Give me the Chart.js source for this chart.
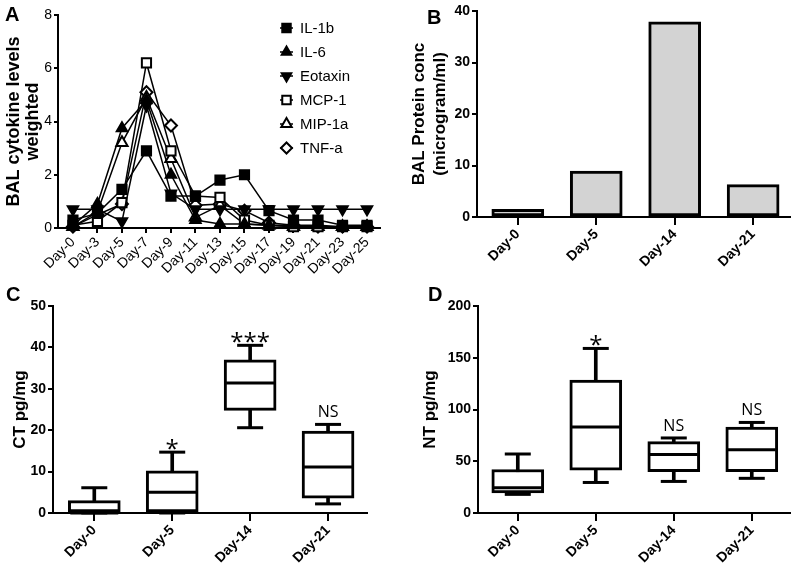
<!DOCTYPE html>
<html><head><meta charset="utf-8">
<script src="https://cdn.jsdelivr.net/npm/chart.js@4.4.0/dist/chart.umd.min.js"></script>
<style>
html,body{margin:0;padding:0;background:#fff;}
#wrap{position:relative;width:796px;height:575px;overflow:hidden;background:#fff;}
canvas{position:absolute;}
.lbl{position:absolute;font:bold 20px 'Liberation Sans',Arial,sans-serif;line-height:20px;color:#000;}
</style></head><body>
<div id="wrap">
<canvas id="cA" width="400" height="290" style="left:0;top:0"></canvas>
<canvas id="cB" width="396" height="290" style="left:400px;top:0"></canvas>
<canvas id="cC" width="400" height="285" style="left:0;top:290px"></canvas>
<canvas id="cD" width="396" height="285" style="left:400px;top:290px"></canvas>
<div class="lbl" style="left:5px;top:4px">A</div>
<div class="lbl" style="left:427px;top:7px">B</div>
<div class="lbl" style="left:6px;top:284px">C</div>
<div class="lbl" style="left:428px;top:284px">D</div>
</div>
<script>
// ---------- Panel A data ----------
const cytokineDays = ['Day-0','Day-3','Day-5','Day-7','Day-9','Day-11','Day-13','Day-15','Day-17','Day-19','Day-21','Day-23','Day-25'];
const il1b    = [0.3, 0.55, 1.45, 2.9, 1.2, 1.2, 1.8, 2.0, 0.65, 0.3, 0.3, 0.1, 0.1];
const il6     = [0.1, 0.9, 3.75, 4.8, 2.0, 0.3, 0.15, 0.15, 0.1, 0.1, 0.1, 0.05, 0.05];
const eotaxin = [0.7, 0.7, 0.25, 4.6, 1.3, 0.7, 0.7, 0.7, 0.7, 0.7, 0.7, 0.7, 0.7];
const mcp1    = [0.1, 0.25, 0.95, 6.2, 2.9, 1.2, 1.15, 0.3, 0.1, 0.05, 0.05, 0.05, 0.05];
const mip1a   = [0.05, 0.6, 3.2, 4.9, 2.6, 0.4, 0.85, 0.15, 0.1, 0.05, 0.05, 0.05, 0.05];
const tnfa    = [0.05, 0.5, 0.9, 5.1, 3.85, 0.85, 0.9, 0.65, 0.2, 0.1, 0.05, 0.05, 0.05];
const cytokineNames = ['IL-1b','IL-6','Eotaxin','MCP-1','MIP-1a','TNF-a'];

// ---------- Panel B data ----------
const proteinDays = ['Day-0','Day-5','Day-14','Day-21'];
const proteinConc = [1.5, 8.9, 37.9, 6.3];

// ---------- Panel C data (CT pg/mg) ----------
const ctDays = ['Day-0','Day-5','Day-14','Day-21'];
const ctMin = [0, 0, 20.6, 2.2];
const ctQ1  = [0, 0, 24.8, 3.6];
const ctMed = [0, 5.0, 31.4, 11.1];
const ctQ3  = [3.0, 10.2, 37.0, 19.8];
const ctMax = [6.1, 14.7, 40.5, 21.4];
const ctNotes = ['', '*', '***', 'NS'];

// ---------- Panel D data (NT pg/mg) ----------
const ntDays = ['Day-0','Day-5','Day-14','Day-21'];
const ntMin = [18, 29.5, 30.5, 33.5];
const ntQ1  = [19.5, 41.5, 40, 40];
const ntMed = [24.5, 83, 56.5, 61];
const ntQ3  = [42, 128.5, 69, 83];
const ntMax = [57, 159, 72.5, 87.5];
const ntNotes = ['', '*', 'NS', 'NS'];

const F = "'Liberation Sans', Arial, sans-serif";
Chart.defaults.font.family = F;
Chart.defaults.color = '#000';

function xAxis(labels, min, max, h, fontOpts, tickLen) {
  return {
    type: 'linear', min: min, max: max, offset: false,
    afterBuildTicks: s => { s.ticks = labels.map((l, i) => ({ value: i })); },
    afterFit: s => { s.height = h; },
    ticks: { autoSkip: false, minRotation: 45, maxRotation: 45, color: '#000', font: fontOpts, padding: 1,
             callback: v => labels[v] },
    grid: { display: true, drawOnChartArea: false, drawTicks: true, tickLength: tickLen, color: '#000', lineWidth: 2, offset: false },
    border: { display: true, color: '#000', width: 2 }
  };
}
function yAxis(min, max, step, w, fontOpts, title, titleFont, titlePad, tickLen) {
  return {
    min: min, max: max,
    afterFit: s => { s.width = w; },
    afterBuildTicks: s => { const t = []; for (let v = min; v <= max + 1e-9; v += step) t.push({ value: v }); s.ticks = t; },
    ticks: { color: '#000', font: fontOpts, padding: 2 },
    grid: { display: true, drawOnChartArea: false, drawTicks: true, tickLength: tickLen || 5, color: '#000', lineWidth: 2 },
    border: { display: true, color: '#000', width: 2 },
    title: { display: true, text: title, color: '#000', font: titleFont, padding: { top: titlePad, bottom: 0 } }
  };
}

// ---------- Panel A ----------
const legendA = {
  id: 'legendA',
  afterDraw(chart) {
    const ctx = chart.ctx;
    chart.data.datasets.forEach((ds, i) => {
      const y = 28 + i * 24;
      ctx.save();
      ctx.strokeStyle = '#000'; ctx.lineWidth = 1.5;
      ctx.beginPath(); ctx.moveTo(280, y); ctx.lineTo(293, y); ctx.stroke();
      ctx.fillStyle = ds.pointBackgroundColor; ctx.strokeStyle = '#000'; ctx.lineWidth = ds.pointBorderWidth;
      Chart.helpers.drawPoint(ctx, { pointStyle: ds.pointStyle, rotation: ds.pointRotation || 0, radius: ds.pointRadius - 0.5, borderWidth: ds.pointBorderWidth }, 286.5, y);
      ctx.fillStyle = '#000'; ctx.font = '15px ' + F; ctx.textBaseline = 'middle'; ctx.textAlign = 'left';
      ctx.fillText(ds.label, 300, y + 1);
      ctx.restore();
    });
  }
};
const seriesA = [il1b, il6, eotaxin, mcp1, mip1a, tnfa];
const stylesA = [
  { ps: 'rect', fill: '#000', r: 6.5, rot: 0 },
  { ps: 'triangle', fill: '#000', r: 6, rot: 0 },
  { ps: 'triangle', fill: '#000', r: 6, rot: 180 },
  { ps: 'rect', fill: '#fff', r: 6.5, rot: 0 },
  { ps: 'triangle', fill: '#fff', r: 6.5, rot: 0 },
  { ps: 'rectRot', fill: '#fff', r: 6, rot: 0 }
];
new Chart(document.getElementById('cA'), {
  type: 'line',
  data: {
    datasets: seriesA.map((vals, k) => ({
      label: cytokineNames[k],
      data: vals.map((v, i) => ({ x: i, y: v })),
      borderColor: '#000', borderWidth: 1.5, fill: false, tension: 0,
      pointStyle: stylesA[k].ps, pointRotation: stylesA[k].rot, pointRadius: stylesA[k].r,
      pointBackgroundColor: stylesA[k].fill, pointBorderColor: '#000', pointBorderWidth: 2,
      clip: false
    }))
  },
  options: {
    responsive: false, animation: false,
    layout: { autoPadding: false, padding: { left: 0, top: 15, right: 20, bottom: 0 } },
    plugins: { legend: { display: false }, tooltip: { enabled: false } },
    scales: {
      x: xAxis(cytokineDays, -0.61, 12.53, 62, { family: F, size: 14 }, 5),
      y: yAxis(0, 8, 2, 58, { family: F, size: 14 }, ['BAL cytokine levels', 'weighted'], { family: F, size: 18, weight: 'bold', lineHeight: 1.08 }, 4, 4)
    }
  },
  plugins: [legendA]
});

// ---------- Panel B ----------
new Chart(document.getElementById('cB'), {
  type: 'bar',
  data: {
    datasets: [{
      data: proteinConc.map((v, i) => ({ x: i, y: v })),
      backgroundColor: '#d3d3d3', borderColor: '#000', borderWidth: 3, borderSkipped: false, barThickness: 52
    }]
  },
  options: {
    responsive: false, animation: false,
    layout: { autoPadding: false, padding: { left: 0, top: 11, right: 6, bottom: 0 } },
    plugins: { legend: { display: false }, tooltip: { enabled: false } },
    scales: {
      x: xAxis(proteinDays, -0.52, 3.47, 73, { family: F, size: 14, weight: 'bold' }, 8),
      y: yAxis(0, 40, 10, 77, { family: F, size: 14, weight: 'bold' }, ['BAL Protein conc', '(microgram/ml)'], { family: F, size: 17, weight: 'bold', lineHeight: 1.24 }, 9)
    }
  }
});

// ---------- Box plots ----------
const notesPlugin = {
  id: 'notes',
  afterDatasetsDraw(chart, args, opts) {
    const ctx = chart.ctx, xs = chart.scales.x, ys = chart.scales.y;
    opts.texts.forEach((t, i) => {
      if (!t) return;
      const x = xs.getPixelForValue(i);
      const capY = ys.getPixelForValue(opts.tops[i]);
      ctx.save();
      ctx.fillStyle = '#000'; ctx.textAlign = 'center'; ctx.textBaseline = 'alphabetic';
      if (t.indexOf('*') >= 0) { ctx.font = '24px "Open Sans", sans-serif'; ctx.fillText(t, x, capY + 5); }
      else { ctx.font = '16px "Open Sans", sans-serif'; ctx.fillText(t, x, capY - 7); }
      ctx.restore();
    });
  }
};
function boxChart(id, labels, mn, q1, md, q3, mx, notes, yMax, yStep, yW, xMin, xMax, padRight, title, titlePad) {
  return new Chart(document.getElementById(id), {
    type: 'bar',
    data: {
      datasets: [
        { type: 'bar', order: 3, grouped: false, data: labels.map((l, i) => ({ x: i, y: [mn[i], mx[i]] })), backgroundColor: '#000', borderWidth: 0, barThickness: 3 },
        { type: 'bar', order: 2, grouped: false, data: labels.map((l, i) => ({ x: i, y: [q1[i], q3[i]] })), backgroundColor: '#fff', borderColor: '#000', borderWidth: 3, borderSkipped: false, barThickness: 52 },
        { type: 'scatter', order: 1, clip: false, data: labels.map((l, i) => ({ x: i, y: mn[i] })).concat(labels.map((l, i) => ({ x: i, y: mx[i] }))),
          pointStyle: 'line', pointRadius: 13, pointBorderWidth: 3, pointBorderColor: '#000', showLine: false },
        { type: 'scatter', order: 0, clip: false, data: labels.map((l, i) => ({ x: i, y: md[i] })),
          pointStyle: 'line', pointRadius: 24, pointBorderWidth: 3, pointBorderColor: '#000', showLine: false }
      ]
    },
    options: {
      responsive: false, animation: false,
      layout: { autoPadding: false, padding: { left: 0, top: 16, right: padRight, bottom: 0 } },
      plugins: { legend: { display: false }, tooltip: { enabled: false }, notes: { texts: notes, tops: mx } },
      scales: {
        x: xAxis(labels, xMin, xMax, 62, { family: F, size: 14, weight: 'bold' }, 8),
        y: yAxis(0, yMax, yStep, yW, { family: F, size: 14, weight: 'bold' }, title, { family: F, size: 17, weight: 'bold' }, titlePad)
      }
    },
    plugins: [notesPlugin]
  });
}
boxChart('cC', ctDays, ctMin, ctQ1, ctMed, ctQ3, ctMax, ctNotes, 50, 10, 53, -0.53, 3.5, 33, 'CT pg/mg', 10);
boxChart('cD', ntDays, ntMin, ntQ1, ntMed, ntQ3, ntMax, ntNotes, 200, 50, 78, -0.51, 3.49, 6, 'NT pg/mg', 20);
</script>
</body></html>
